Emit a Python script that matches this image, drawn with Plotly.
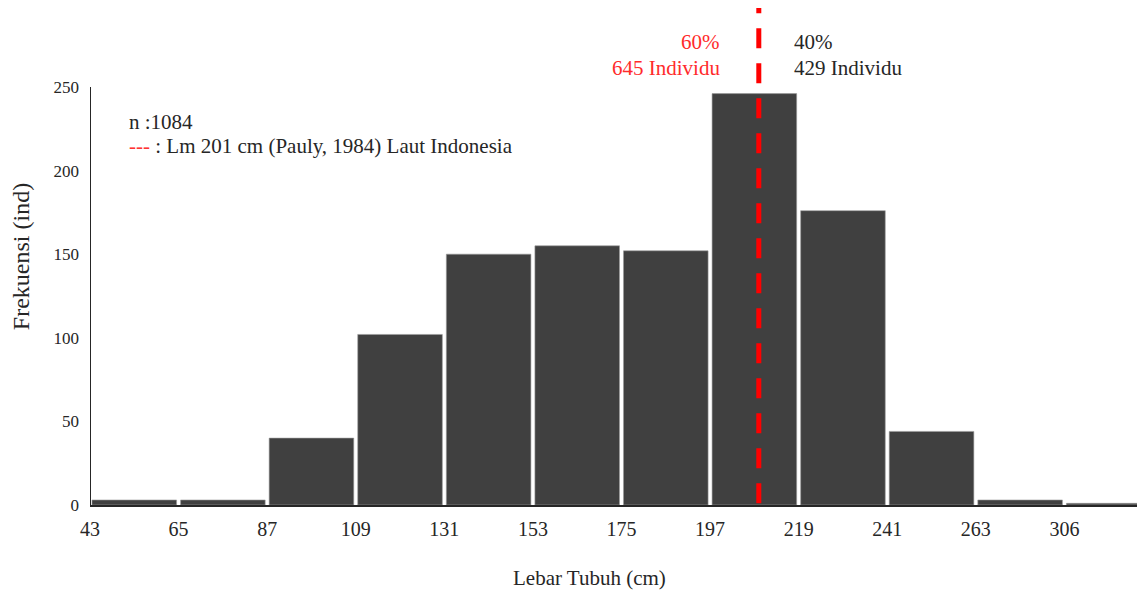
import plotly.graph_objects as go

# Data
bin_labels = ["43", "65", "87", "109", "131", "153", "175", "197", "219", "241", "263", "306"]
frequencies = [3, 3, 40, 102, 150, 155, 152, 246, 176, 44, 3, 1]
lm_position = 7.55          # Lm 201 cm on the class-index scale
n_total = 1084
left_pct, left_n = "60%", 645
right_pct, right_n = "40%", 429

FONT = "Liberation Serif, Times New Roman, serif"
bar_x = [i + 0.5 for i in range(len(frequencies))]

fig = go.Figure()
fig.add_trace(go.Bar(
    x=bar_x, y=frequencies, width=0.955,
    marker=dict(color="#404040", line=dict(color="#9a9a9a", width=0.6)),
    hoverinfo="y",
))

# left (y) axis line only up to 250
fig.add_shape(type="line", xref="x", yref="y", x0=0, x1=0, y0=0, y1=250,
              line=dict(color="#262626", width=2))
# Lm dashed line
fig.add_shape(type="line", xref="x", yref="y", x0=lm_position, x1=lm_position,
              y0=306, y1=0, line=dict(color="#ff0000", width=5, dash="20px,15px"))

fig.add_annotation(xref="paper", yref="paper", x=0.035, y=0.771, xanchor="left", yanchor="middle",
                   text=f"n :{n_total}", showarrow=False,
                   font=dict(family=FONT, size=21, color="#262626"))
fig.add_annotation(xref="paper", yref="paper", x=0.035, y=0.722, xanchor="left", yanchor="middle",
                   text="<span style='color:#ff3333'>---</span> : Lm 201 cm (Pauly, 1984) Laut Indonesia",
                   showarrow=False, font=dict(family=FONT, size=21, color="#262626"))

fig.add_annotation(xref="x", yref="paper", x=lm_position - 0.42, y=0.932, xanchor="right", yanchor="middle",
                   text=left_pct, showarrow=False, font=dict(family=FONT, size=21, color="#ff2b2b"))
fig.add_annotation(xref="x", yref="paper", x=lm_position - 0.42, y=0.879, xanchor="right", yanchor="middle",
                   text=f"{left_n} Individu", showarrow=False, font=dict(family=FONT, size=21, color="#ff2b2b"))
fig.add_annotation(xref="x", yref="paper", x=lm_position + 0.37, y=0.932, xanchor="left", yanchor="middle",
                   text=right_pct, showarrow=False, font=dict(family=FONT, size=21, color="#262626"))
fig.add_annotation(xref="x", yref="paper", x=lm_position + 0.37, y=0.879, xanchor="left", yanchor="middle",
                   text=f"{right_n} Individu", showarrow=False, font=dict(family=FONT, size=21, color="#262626"))

# x-axis title (offset left of plot centre, as in the original)
fig.add_annotation(xref="paper", yref="paper", x=0.470, y=-0.147, xanchor="center", yanchor="middle",
                   text="Lebar Tubuh (cm)", showarrow=False,
                   font=dict(family=FONT, size=21, color="#262626"))

fig.update_layout(
    width=1145, height=593,
    margin=dict(l=82, r=0, t=0, b=96),
    plot_bgcolor="white", paper_bgcolor="white",
    showlegend=False,
    font=dict(family=FONT, color="#262626"),
    xaxis=dict(
        range=[0, 12.0], tickmode="array", tickvals=list(range(len(bin_labels))),
        ticktext=bin_labels, showgrid=False, zeroline=False, automargin=False,
        showline=True, linecolor="#262626", linewidth=2, ticks="",
        ticklabelstandoff=5,
        tickfont=dict(family=FONT, size=20, color="#262626"),
    ),
    yaxis=dict(
        range=[0, 297.2], tickmode="array", tickvals=[0, 50, 100, 150, 200, 250],
        showgrid=False, zeroline=False, showline=False, ticks="", automargin=False,
        ticklabelstandoff=10,
        tickfont=dict(family=FONT, size=17, color="#262626"),
        title=dict(text="Frekuensi (ind)", font=dict(family=FONT, size=24, color="#262626"), standoff=24),
    ),
)

fig.write_html("out.html")
